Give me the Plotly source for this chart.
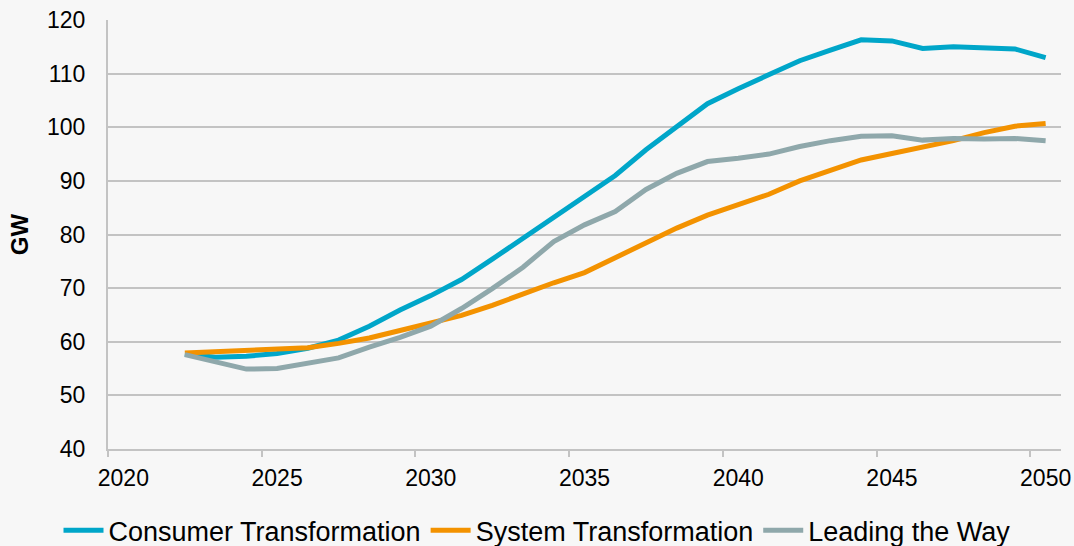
import plotly.graph_objects as go

years = list(range(2022, 2051))

consumer_transformation = [57.7, 57.1, 57.3, 57.8, 58.8, 60.3, 62.9, 65.9, 68.6, 71.6,
                           75.4, 79.3, 83.1, 87.0, 91.0, 95.8, 100.1, 104.4, 107.2, 109.7,
                           112.4, 114.4, 116.3, 116.1, 114.7, 115.0, 114.7, 114.6, 113.0]
system_transformation = [57.9, 58.1, 58.3, 58.5, 58.9, 59.7, 60.7, 62.1, 63.4, 64.9,
                         66.8, 69.0, 71.0, 72.9, 75.7, 78.6, 81.2, 83.6, 85.6, 87.5,
                         90.0, 92.0, 93.9, 95.1, 96.2, 97.5, 99.0, 100.2, 100.7]
leading_the_way = [57.6, 56.3, 54.9, 55.0, 55.9, 57.0, 59.0, 60.8, 62.9, 66.2,
                   69.9, 73.9, 78.7, 81.8, 84.3, 88.4, 91.4, 93.6, 94.2, 95.0,
                   96.4, 97.5, 98.3, 98.4, 97.6, 97.9, 97.8, 97.9, 97.5]

x_labels = [2020, 2025, 2030, 2035, 2040, 2045, 2050]
y_ticks = [40, 50, 60, 70, 80, 90, 100, 110, 120]

series = [
    ("Consumer Transformation", consumer_transformation, "#00A6C9"),
    ("System Transformation", system_transformation, "#F39200"),
    ("Leading the Way", leading_the_way, "#8FA8AB"),
]

FONT = "Liberation Sans, Arial, sans-serif"
GRID = "#C3C3C3"
BG = "#F7F7F7"

fig = go.Figure()
for name, vals, color in series:
    fig.add_trace(go.Scatter(x=years, y=vals, name=name, mode="lines",
                             line=dict(color=color, width=5)))

fig.update_layout(
    width=1074, height=546,
    paper_bgcolor=BG, plot_bgcolor=BG,
    margin=dict(l=108, r=13, t=20, b=97, autoexpand=False),
    font=dict(family=FONT, color="#000000"),
    showlegend=True,
    legend=dict(orientation="h", xref="container", x=0.5, xanchor="center",
                yref="container", y=0.028, yanchor="middle",
                font=dict(size=27, family=FONT), bgcolor="rgba(0,0,0,0)",
                itemwidth=40, tracegroupgap=0),
)

fig.update_xaxes(
    range=[2019.5, 2050.5], automargin=False,
    tickmode="array", tickvals=x_labels, ticktext=[str(v) for v in x_labels],
    ticks="", showgrid=False, zeroline=False,
    showline=True, linecolor=GRID, linewidth=2,
    tickfont=dict(size=23, family=FONT),
    ticklabelstandoff=7,
    minor=dict(tick0=2019.5, dtick=5, ticks="outside", ticklen=6,
               tickwidth=2, tickcolor=GRID, showgrid=False),
)
fig.update_yaxes(
    range=[40, 120], automargin=False,
    tickmode="array", tickvals=y_ticks,
    ticks="", showgrid=True, gridcolor=GRID, gridwidth=2,
    zeroline=False, showline=True, linecolor=GRID, linewidth=2,
    tickfont=dict(size=23, family=FONT),
    ticklabelstandoff=16,
    title=dict(text="<b>GW</b>", font=dict(size=24, family=FONT), standoff=12),
)

fig.write_html("out.html", config={"displayModeBar": False},
               post_script="document.body.style.margin='0';")
